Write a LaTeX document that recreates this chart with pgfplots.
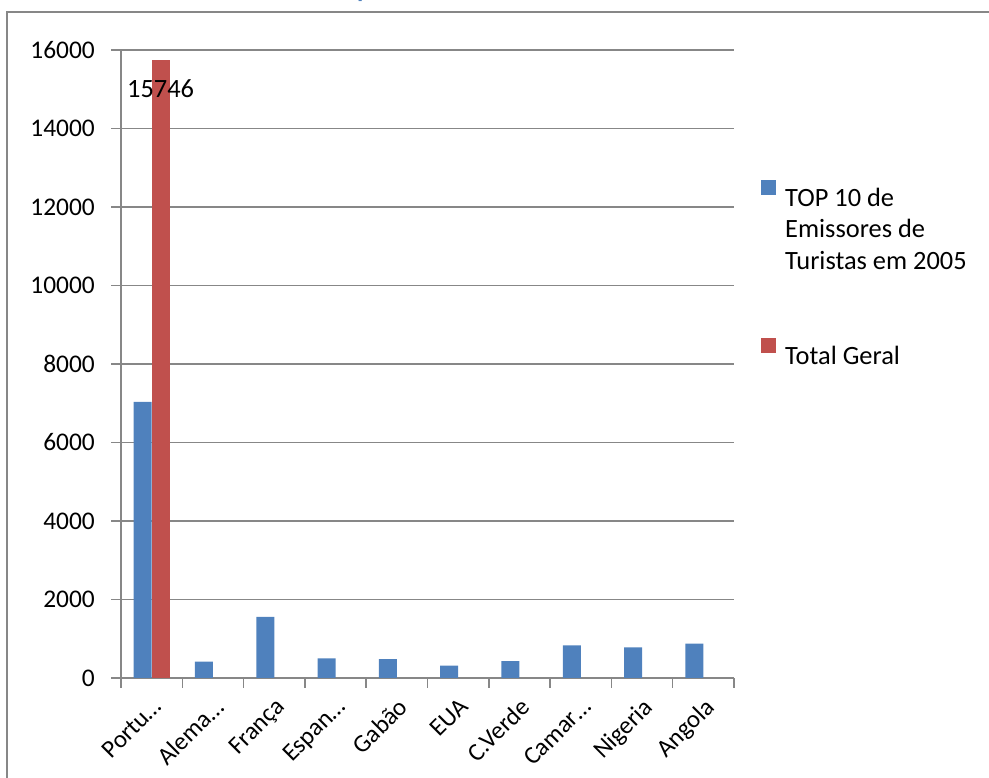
\documentclass[border=0pt]{standalone}
\usepackage{pgfplots}
\pgfplotsset{compat=1.18}
\usepackage{fontspec}
\setmainfont{Carlito}
\definecolor{xblue}{HTML}{4F81BD}
\definecolor{xred}{HTML}{C0504D}
\definecolor{xgrid}{HTML}{878787}
\definecolor{xtitle}{HTML}{4F81BD}
\newcommand\lstrut{\rule[-8bp]{0pt}{34bp}}
\newcommand\estrut{\rule[-8bp]{0pt}{34.5bp}}

\begin{document}
\begin{tikzpicture}[x=1bp,y=1bp]
\useasboundingbox (0,0) rectangle (989,778);
\clip (0,0) rectangle (989,778);
\draw[xgrid, line width=1.5bp] (7,-10) -- (7,766) -- (1000,766);
\node[anchor=base, text=xtitle, font=\bfseries\fontsize{26}{26}\selectfont, inner sep=0pt] at (364,780) {p};
\begin{axis}[
  at={(121bp,100bp)}, anchor=south west,
  scale only axis, width=613bp, height=628bp,
  xmin=-0.5, xmax=9.5, ymin=0, ymax=16000,
  axis x line*=bottom, axis y line*=left,
  axis line style={xgrid, line width=1.5bp},
  tick align=outside,
  major tick length=10bp,
  tick style={xgrid, line width=1.5bp},
  ytick={0,2000,...,16000},
  ymajorgrids, grid style={xgrid, line width=1.5bp},
  scaled y ticks=false,
  /pgf/number format/1000 sep={},
  /pgf/number format/assume math mode=true,
  yticklabel style={font=\fontsize{25.5}{30}\selectfont, inner sep=0pt, xshift=-16bp},
  xtick={-0.5,0.5,...,9.5},
  xticklabels={},
  extra x ticks={0,1,2,3,4,5,6,7,8,9},
  extra x tick labels={Portu…,Alema…,França,Espan…,Gabão,EUA,C.Verde,Camar…,Nigeria,Angola},
  extra x tick style={xtick style={draw=none}, grid=none,
    xticklabel style={rotate=45, anchor=north east, inner sep=0pt, yshift=-6bp, xshift=-6bp,
      font=\fontsize{25}{30}\selectfont}},
  legend style={draw=none, fill=none, at={(1.044,0.796)}, anchor=north west,
    inner sep=0pt, column sep=7bp, row sep=0pt,
    font=\fontsize{26.5}{32}\selectfont, cells={anchor=base west}},
  legend cell align=left,
  bar width=18bp,
  clip=false,
]
\addplot[ybar, bar shift=-9bp, fill=xblue, draw=none,
  legend image code/.code={\fill[xblue] (0bp,-1bp) rectangle (15bp,14bp);}]
  coordinates {(0,7035) (1,420) (2,1560) (3,497) (4,479) (5,317) (6,428) (7,829) (8,778) (9,873)};
\addlegendentry{\lstrut TOP 10 de}
\addlegendimage{empty legend}
\addlegendentry{\lstrut Emissores de}
\addlegendimage{empty legend}
\addlegendentry{\lstrut Turistas em 2005}
\addlegendimage{empty legend}
\addlegendentry{\estrut}
\addlegendimage{empty legend}
\addlegendentry{\estrut}
\addplot[ybar, bar shift=9bp, fill=xred, draw=none,
  nodes near coords,
  nodes near coords style={anchor=north, yshift=-20bp, xshift=9bp, inner sep=0pt, text=black,
    font=\fontsize{26.5}{30}\selectfont},
  legend image code/.code={\fill[xred] (0bp,-1bp) rectangle (15bp,14bp);}]
  coordinates {(0,15746)};
\addlegendentry{\lstrut Total Geral}
\end{axis}
\end{tikzpicture}
\end{document}
